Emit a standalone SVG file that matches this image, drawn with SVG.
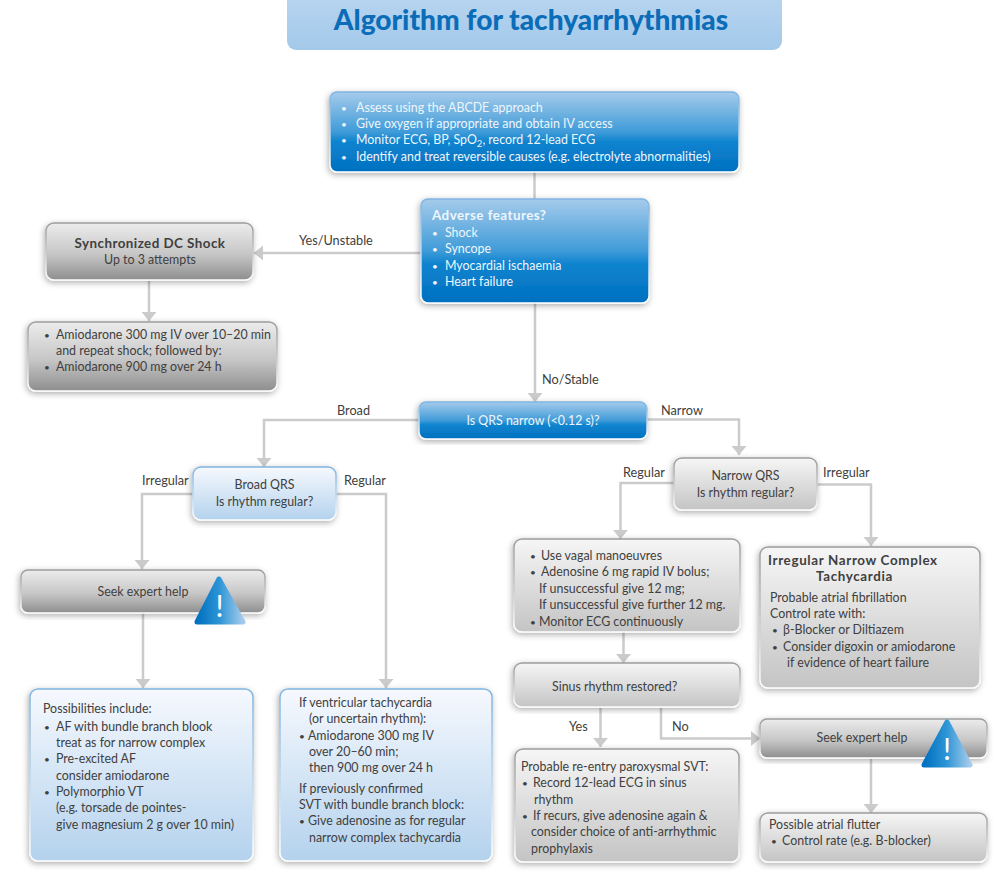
<svg xmlns="http://www.w3.org/2000/svg" width="997" height="874" viewBox="0 0 997 874">
<defs>
<linearGradient id="gTitle" x1="0" y1="0" x2="0" y2="1"><stop offset="0" stop-color="#bad6f0"/><stop offset="1" stop-color="#a3c9ea"/></linearGradient>
<linearGradient id="gBlue" x1="0" y1="0" x2="0" y2="1"><stop offset="0" stop-color="#a5cbeb"/><stop offset="0.5" stop-color="#3f9bd8"/><stop offset="0.62" stop-color="#0f84cf"/><stop offset="1" stop-color="#0070c0"/></linearGradient>
<linearGradient id="gLight" x1="0" y1="0" x2="0" y2="1"><stop offset="0" stop-color="#f6f9fe"/><stop offset="1" stop-color="#b4d2ed"/></linearGradient>
<linearGradient id="gDark" x1="0" y1="0" x2="0" y2="1"><stop offset="0" stop-color="#ececec"/><stop offset="0.55" stop-color="#c6c6c6"/><stop offset="1" stop-color="#8e8e8e"/></linearGradient>
<linearGradient id="gPale" x1="0" y1="0" x2="0" y2="1"><stop offset="0" stop-color="#f6f6f6"/><stop offset="1" stop-color="#c4c4c4"/></linearGradient>
<linearGradient id="gWarn" x1="0" y1="0" x2="1" y2="0"><stop offset="0" stop-color="#0070c0"/><stop offset="0.5" stop-color="#2f96d6"/><stop offset="1" stop-color="#a5cbeb"/></linearGradient>
<linearGradient id="eGray" x1="0" y1="0" x2="0" y2="1"><stop offset="0" stop-color="#9c9c9c"/><stop offset="0.6" stop-color="#d0d0d0"/><stop offset="1" stop-color="#fff"/></linearGradient>
<linearGradient id="eBlue" x1="0" y1="0" x2="0" y2="1"><stop offset="0" stop-color="#7fb4e0"/><stop offset="0.6" stop-color="#c3dcf1"/><stop offset="1" stop-color="#fff"/></linearGradient>
<filter id="sh" x="-10%" y="-15%" width="120%" height="130%"><feDropShadow dx="-1" dy="2" stdDeviation="3" flood-color="#000" flood-opacity="0.32"/></filter>
<marker id="arrow" markerUnits="userSpaceOnUse" markerWidth="18" markerHeight="18" viewBox="0 0 18 18" refX="10" refY="9" orient="auto"><path d="M1 1.500L10 9L1 16.500Z" fill="#cbcbcb"/></marker>
<style>
text{font-family:Lato,"Open Sans","Liberation Sans",sans-serif;font-size:12.400px;fill:#404040}
.w text{fill:#eef6fc}
.b{font-weight:700;font-size:13.400px;letter-spacing:0.450px}
.u{font-size:10px}
.c{text-anchor:middle}
.box{stroke-width:1.500;filter:url(#sh)}
.blue{fill:url(#gBlue);stroke:url(#eBlue)}
.light{fill:url(#gLight);stroke:url(#eBlue)}
.dark{fill:url(#gDark);stroke:url(#eGray)}
.pale{fill:url(#gPale);stroke:url(#eGray)}
.lbl{font-size:12.700px}
#connectors path{fill:none;stroke:#cbcbcb;stroke-width:2.500}
</style>
</defs>
<rect width="997" height="874" fill="#fff"/>

<g id="title">
<rect x="287" y="-12" width="495" height="62" rx="9" fill="url(#gTitle)"/>
<text x="531" y="30" class="c" style="font-size:28.100px;font-weight:900;fill:#0b6cb7">Algorithm for tachyarrhythmias</text>
</g>

<g id="connectors">
<path d="M534.500 172V199"/>
<path d="M420 253H254" marker-end="url(#arrow)"/>
<path d="M149 281V321" marker-end="url(#arrow)"/>
<path d="M535 303V402" marker-end="url(#arrow)"/>
<path d="M419 420H264V467" marker-end="url(#arrow)"/>
<path d="M647 419.500H739V455" marker-end="url(#arrow)"/>
<path d="M193 494H142V569" marker-end="url(#arrow)"/>
<path d="M336 494H386V688" marker-end="url(#arrow)"/>
<path d="M143 613V688" marker-end="url(#arrow)"/>
<path d="M674 483H620.500V539" marker-end="url(#arrow)"/>
<path d="M817 484.500H871V546" marker-end="url(#arrow)"/>
<path d="M623.500 632V663" marker-end="url(#arrow)"/>
<path d="M600.500 708V747" marker-end="url(#arrow)"/>
<path d="M661 708V738.500H760" marker-end="url(#arrow)"/>
<path d="M871 759V813" marker-end="url(#arrow)"/>
</g>

<g id="connector-labels">
<text class="lbl" x="299" y="245">Yes/Unstable</text>
<text class="lbl" x="542" y="384">No/Stable</text>
<text class="lbl" x="337" y="415">Broad</text>
<text class="lbl" x="661" y="415">Narrow</text>
<text class="lbl" x="142" y="485">Irregular</text>
<text class="lbl" x="344" y="485">Regular</text>
<text class="lbl" x="623" y="477">Regular</text>
<text class="lbl" x="823" y="477">Irregular</text>
<text class="lbl" x="569" y="731">Yes</text>
<text class="lbl" x="672" y="731">No</text>
</g>

<g id="assess" class="w">
<rect class="box blue" x="330" y="92" width="409" height="80" rx="7"/>
<text class="u" x="341" y="112">•</text><text x="356" y="112">Assess using the ABCDE approach</text>
<text class="u" x="341" y="128">•</text><text x="356" y="128">Give oxygen if appropriate and obtain IV access</text>
<text class="u" x="341" y="144">•</text><text x="356" y="144">Monitor ECG, BP, SpO<tspan dy="3" style="font-size:9.500px">2</tspan><tspan dy="-3">, record 12-lead ECG</tspan></text>
<text class="u" x="341" y="161">•</text><text x="356" y="161">Identify and treat reversible causes (e.g. electrolyte abnormalities)</text>
</g>

<g id="adverse" class="w">
<rect class="box blue" x="421" y="199" width="228" height="104" rx="7"/>
<text class="b" x="432" y="220">Adverse features?</text>
<text class="u" x="432" y="237">•</text><text x="445" y="237">Shock</text>
<text class="u" x="432" y="253">•</text><text x="445" y="253">Syncope</text>
<text class="u" x="432" y="270">•</text><text x="445" y="270">Myocardial ischaemia</text>
<text class="u" x="432" y="286">•</text><text x="445" y="286">Heart failure</text>
</g>

<g id="shock">
<rect class="box dark" x="46" y="223" width="207" height="57" rx="8"/>
<text class="b c" x="150" y="248">Synchronized DC Shock</text>
<text class="c" x="150" y="264">Up to 3 attempts</text>
</g>

<g id="amiodarone">
<rect class="box dark" x="28" y="322" width="249" height="69" rx="8"/>
<text class="u" x="44" y="339">•</text><text x="56" y="339">Amiodarone 300 mg IV over 10–20 min</text>
<text x="56" y="355">and repeat shock; followed by:</text>
<text class="u" x="44" y="371">•</text><text x="56" y="371">Amiodarone 900 mg over 24 h</text>
</g>

<g id="qrs" class="w">
<rect class="box blue" x="419" y="402" width="228" height="37" rx="7"/>
<text class="c" x="533" y="425">Is QRS narrow (&lt;0.12 s)?</text>
</g>

<g id="broad-qrs">
<rect class="box light" x="193" y="467" width="143" height="53" rx="8"/>
<text class="c" x="264.500" y="489">Broad QRS</text>
<text class="c" x="264.500" y="506">Is rhythm regular?</text>
</g>

<g id="narrow-qrs">
<rect class="box pale" x="674" y="458" width="143" height="52" rx="8"/>
<text class="c" x="745.500" y="480">Narrow QRS</text>
<text class="c" x="745.500" y="497">Is rhythm regular?</text>
</g>

<g id="seek-left">
<rect class="box dark" x="21" y="570" width="244" height="43" rx="7"/>
<text class="c" x="143" y="596">Seek expert help</text>
<path d="M219 579L243 622H197Z" fill="url(#gWarn)" stroke="url(#gWarn)" stroke-width="5" stroke-linejoin="round"/>
<text class="c" x="219.500" y="617" style="font-size:30px;fill:#fff">!</text>
</g>

<g id="possibilities">
<rect class="box light" x="30" y="689" width="223" height="172" rx="8"/>
<text x="43" y="713">Possibilities include:</text>
<text class="u" x="44" y="731">•</text><text x="56" y="731">AF with bundle branch blook</text>
<text x="56" y="747">treat as for narrow complex</text>
<text class="u" x="44" y="763">•</text><text x="56" y="763">Pre-excited AF</text>
<text x="56" y="780">consider amiodarone</text>
<text class="u" x="44" y="796">•</text><text x="56" y="796">Polymorphio VT</text>
<text x="56" y="812">(e.g. torsade de pointes-</text>
<text x="56" y="829">give magnesium 2 g over 10 min)</text>
</g>

<g id="ventricular">
<rect class="box light" x="280" y="689" width="212" height="172" rx="8"/>
<text x="299" y="707">If ventricular tachycardia</text>
<text x="309" y="723">(or uncertain rhythm):</text>
<text class="u" x="299" y="740">•</text><text x="308" y="740">Amiodarone 300 mg IV</text>
<text x="309" y="756">over 20–60 min;</text>
<text x="309" y="772">then 900 mg over 24 h</text>
<text x="299" y="793">If previously confirmed</text>
<text x="299" y="809">SVT with bundle branch block:</text>
<text class="u" x="299" y="825">•</text><text x="308" y="825">Give adenosine as for regular</text>
<text x="309" y="842">narrow complex tachycardia</text>
</g>

<g id="vagal">
<rect class="box pale" x="514" y="539" width="226" height="93" rx="8"/>
<text class="u" x="530" y="560">•</text><text x="541" y="560">Use vagal manoeuvres</text>
<text class="u" x="530" y="576">•</text><text x="541" y="576">Adenosine 6 mg rapid IV bolus;</text>
<text x="539" y="593">If unsuccessful give 12 mg;</text>
<text x="539" y="609">If unsuccessful give further 12 mg.</text>
<text class="u" x="530" y="626">•</text><text x="539" y="626">Monitor ECG continuously</text>
</g>

<g id="irregular">
<rect class="box pale" x="760" y="547" width="220" height="141" rx="8"/>
<text class="b" x="768" y="565" style="letter-spacing:0.650px">Irregular Narrow Complex</text>
<text class="b" x="816" y="581" style="letter-spacing:0.650px">Tachycardia</text>
<text x="770" y="602">Probable atrial fibrillation</text>
<text x="770" y="618">Control rate with:</text>
<text class="u" x="772" y="634">•</text><text x="783" y="634">β-Blocker or Diltiazem</text>
<text class="u" x="772" y="651">•</text><text x="783" y="651">Consider digoxin or amiodarone</text>
<text x="787" y="667">if evidence of heart failure</text>
</g>

<g id="sinus">
<rect class="box pale" x="514" y="663" width="226" height="44" rx="8"/>
<text x="552" y="691">Sinus rhythm restored?</text>
</g>

<g id="probable">
<rect class="box pale" x="515" y="749" width="224" height="113" rx="8"/>
<text x="521" y="771">Probable re-entry paroxysmal SVT:</text>
<text class="u" x="522" y="787">•</text><text x="533" y="787">Record 12-lead ECG in sinus</text>
<text x="534" y="804">rhythm</text>
<text class="u" x="522" y="820">•</text><text x="533" y="820">If recurs, give adenosine again &amp;</text>
<text x="531" y="836">consider choice of anti-arrhythmic</text>
<text x="531" y="853">prophylaxis</text>
</g>

<g id="seek-right">
<rect class="box dark" x="760" y="719" width="227" height="39" rx="7"/>
<text class="c" x="862" y="742">Seek expert help</text>
<path d="M947 722L970 765H924Z" fill="url(#gWarn)" stroke="url(#gWarn)" stroke-width="5" stroke-linejoin="round"/>
<text class="c" x="947" y="760" style="font-size:30px;fill:#fff">!</text>
</g>

<g id="flutter">
<rect class="box pale" x="760" y="813" width="227" height="49" rx="8"/>
<text x="769" y="829">Possible atrial flutter</text>
<text class="u" x="771" y="845">•</text><text x="782" y="845">Control rate (e.g. B-blocker)</text>
</g>
</svg>
